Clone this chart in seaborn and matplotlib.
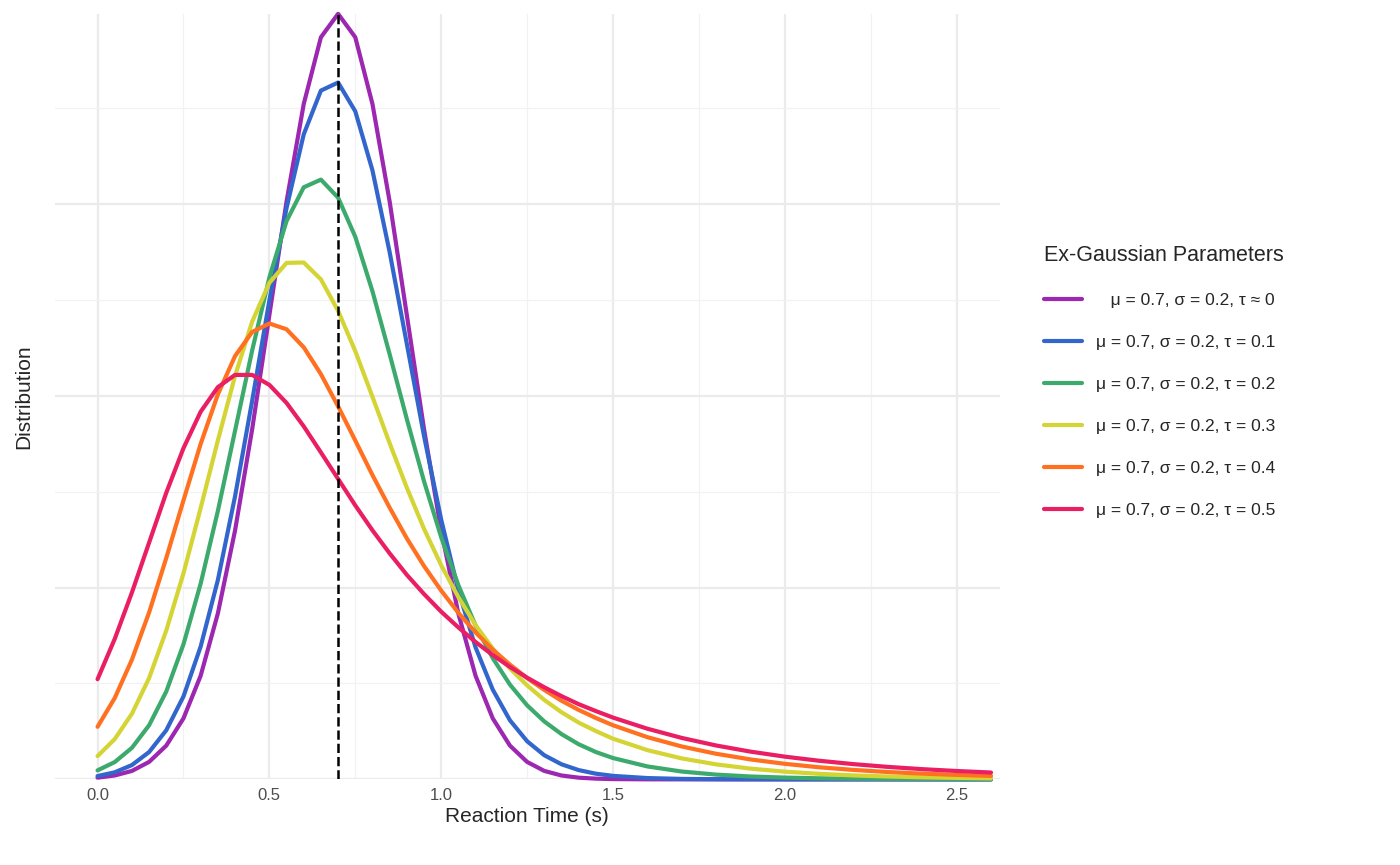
import matplotlib.pyplot as plt
import numpy as np
import pandas as pd
import seaborn as sns

# reaction time grid (s): fine steps up to 1.5, coarser in the tail
rt = [0.0, 0.05, 0.1, 0.15, 0.2, 0.25, 0.3, 0.35, 0.4, 0.45, 0.5, 0.55, 0.6, 0.65,
      0.7, 0.75, 0.8, 0.85, 0.9, 0.95, 1.0, 1.05, 1.1, 1.15, 1.2, 1.25, 1.3, 1.35,
      1.4, 1.45, 1.5, 1.6, 1.7, 1.8, 1.9, 2.0, 2.1, 2.2, 2.3, 2.4, 2.5, 2.6]

# density values, one list per curve
tau0 = [0.0044, 0.0101, 0.022, 0.0455, 0.088, 0.159, 0.270, 0.432, 0.648, 0.913, 1.210,
        1.506, 1.760, 1.934, 1.995, 1.934, 1.760, 1.506, 1.210, 0.913, 0.648, 0.432,
        0.270, 0.159, 0.088, 0.0455, 0.022, 0.0101, 0.0044, 0.0019, 0.0007,
        0.0001, 0, 0, 0, 0, 0, 0, 0, 0, 0, 0]
tau01 = [0.0086, 0.0184, 0.0373, 0.0712, 0.128, 0.216, 0.346, 0.519, 0.737, 0.987, 1.248,
         1.489, 1.681, 1.795, 1.816, 1.741, 1.587, 1.374, 1.135, 0.895, 0.677, 0.492,
         0.344, 0.234, 0.154, 0.0994, 0.0629, 0.0393, 0.0242, 0.0148, 0.0091,
         0.0034, 0.0012, 0.0005, 0.0002, 0.0001, 0, 0, 0, 0, 0, 0]
tau02 = [0.0234, 0.0451, 0.0822, 0.141, 0.229, 0.352, 0.510, 0.699, 0.908, 1.118, 1.308,
         1.455, 1.543, 1.563, 1.516, 1.414, 1.272, 1.108, 0.939, 0.777, 0.631, 0.506,
         0.401, 0.316, 0.247, 0.193, 0.151, 0.118, 0.0916, 0.0713, 0.0556,
         0.0337, 0.0204, 0.0124, 0.0075, 0.0046, 0.0028, 0.0017, 0.0010, 0.0006, 0.0004, 0.0002]
tau03 = [0.0605, 0.105, 0.171, 0.264, 0.388, 0.537, 0.707, 0.883, 1.051, 1.193, 1.294,
         1.346, 1.347, 1.303, 1.221, 1.116, 0.997, 0.876, 0.760, 0.653, 0.558, 0.475,
         0.402, 0.341, 0.289, 0.245, 0.207, 0.175, 0.148, 0.126, 0.106,
         0.0762, 0.0546, 0.0391, 0.0280, 0.0201, 0.0144, 0.0103, 0.0074, 0.0053, 0.0038, 0.0027]
tau04 = [0.137, 0.212, 0.312, 0.435, 0.577, 0.727, 0.874, 1.003, 1.103, 1.166, 1.188,
         1.173, 1.126, 1.056, 0.972, 0.883, 0.793, 0.708, 0.628, 0.556, 0.492, 0.434,
         0.383, 0.338, 0.299, 0.264, 0.233, 0.205, 0.181, 0.160, 0.141,
         0.110, 0.0857, 0.0667, 0.0520, 0.0405, 0.0315, 0.0246, 0.0191, 0.0149, 0.0116, 0.0090]
tau05 = [0.261, 0.366, 0.487, 0.617, 0.747, 0.863, 0.958, 1.022, 1.054, 1.054, 1.028,
         0.981, 0.920, 0.852, 0.783, 0.714, 0.649, 0.589, 0.533, 0.483, 0.437, 0.396,
         0.358, 0.324, 0.293, 0.265, 0.240, 0.217, 0.196, 0.178, 0.161,
         0.132, 0.108, 0.0883, 0.0723, 0.0592, 0.0485, 0.0397, 0.0325, 0.0266, 0.0218, 0.0178]

labels = ['   μ = 0.7, σ = 0.2, τ ≈ 0', 'μ = 0.7, σ = 0.2, τ = 0.1', 'μ = 0.7, σ = 0.2, τ = 0.2',
          'μ = 0.7, σ = 0.2, τ = 0.3', 'μ = 0.7, σ = 0.2, τ = 0.4', 'μ = 0.7, σ = 0.2, τ = 0.5']
cores = ['#9C27B0', '#3366CC', '#3DAA6D', '#D4D435', '#FF7020', '#E91E63']
mu = 0.7

series = [tau0, tau01, tau02, tau03, tau04, tau05]
df = pd.concat([pd.DataFrame({'rt': rt, 'dens': s, 'param': lab})
                for s, lab in zip(series, labels)])

sns.set_style('whitegrid')
plt.rcParams['font.family'] = ['Liberation Sans', 'DejaVu Sans']

fig = plt.figure(figsize=(14, 8.65), dpi=100)
ax = fig.add_axes([0.039, 0.099, 0.675, 0.885])
sns.lineplot(data=df, x='rt', y='dens', hue='param', hue_order=labels,
             palette=cores, linewidth=3, ax=ax, clip_on=False)
ax.axvline(mu, color='black', linestyle='--', linewidth=1.8)

ax.set_xlim(-0.125, 2.625)
ax.set_ylim(0, 1.995)
ax.set_xticks([0, 0.5, 1.0, 1.5, 2.0, 2.5])
ax.set_xticklabels(['0.0', '0.5', '1.0', '1.5', '2.0', '2.5'])
ax.set_xticks([0.25, 0.75, 1.25, 1.75, 2.25], minor=True)
ax.set_yticks([0, 0.5, 1.0, 1.5])
ax.set_yticks([0.25, 0.75, 1.25, 1.75], minor=True)
ax.set_yticklabels([])
ax.grid(which='major', color='#EBEBEB', linewidth=1.6)
ax.grid(which='minor', color='#F2F2F2', linewidth=0.9)
ax.tick_params(axis='x', labelsize=12, colors='#4D4D4D', length=0, pad=6)
ax.tick_params(axis='y', length=0)
for sp in ax.spines.values():
    sp.set_visible(False)
ax.set_xlabel('Reaction Time (s)', fontsize=15, labelpad=3)
ax.set_ylabel('Distribution', fontsize=15, labelpad=10)

leg = ax.legend(title='Ex-Gaussian Parameters', loc='center left',
                bbox_to_anchor=(1.03, 0.52), frameon=False, fontsize=12.5,
                title_fontsize=15.5, labelspacing=1.55, handlelength=2.2)
leg._legend_box.align = 'left'
for line in leg.get_lines():
    line.set_linewidth(3)

fig.savefig('out.png', dpi=100)
